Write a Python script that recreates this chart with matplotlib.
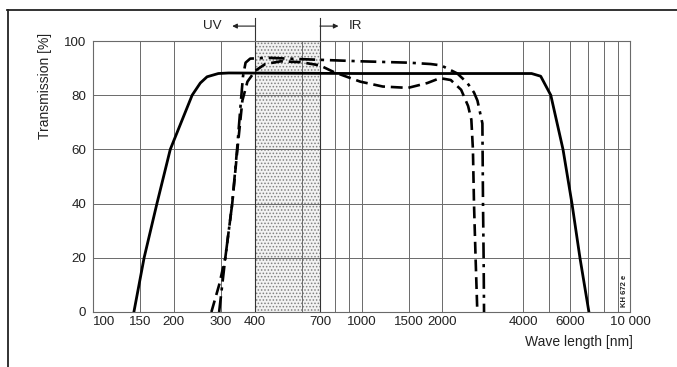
import matplotlib
matplotlib.use("Agg")
import matplotlib.pyplot as plt
from matplotlib.lines import Line2D

plt.rcParams['font.family'] = ['Liberation Sans', 'DejaVu Sans']
plt.rcParams['hatch.linewidth'] = 0.7

# ---- data (wavelength nm, transmission %) ----
solid_wl = [142, 155, 173, 194, 234, 251, 266, 293, 320, 1000, 4300, 4650, 5070, 5630, 6080, 6510, 7030]
solid_t = [0, 20, 40, 60, 80, 84.5, 86.8, 88, 88.2, 88, 88, 87, 80, 60, 40, 20, 0]

dash_wl = [276, 295, 311, 330, 345, 360, 376, 402, 438, 500, 593, 700, 790, 990, 1200, 1490, 1760, 1960,
           2150, 2350, 2495, 2565, 2600, 2624, 2660, 2700]
dash_t = [0, 10, 20, 40, 60, 78, 85, 89, 91.5, 92.5, 92.2, 91, 88.5, 85, 83.2, 82.7, 84.5, 86.3,
          85.6, 82, 76, 71, 60, 40, 20, 0]

dashdot_wl = [295, 311, 330, 344, 357, 362, 370, 385, 450, 600, 1000, 1500, 1810, 1980, 2276, 2479,
              2624, 2703, 2820, 2835, 2850, 2860]
dashdot_t = [0, 20, 40, 60, 80, 87, 92, 93.5, 93.8, 93.3, 92.5, 92, 91.5, 91, 88, 84.5,
             81, 78, 69.6, 40, 20, 0]

xtick_vals = [100, 150, 200, 300, 400, 700, 1000, 1500, 2000, 4000, 6000, 10000]
xtick_labels = ['100', '150', '200', '300', '400', '700', '1000', '1500', '2000', '4000', '6000', '10 000']
extra_grid = [600, 800, 900, 5000, 7000, 8000, 9000]
ytick_vals = [0, 20, 40, 60, 80, 100]
band = [400, 700]

fig = plt.figure(figsize=(6.77, 3.67), dpi=100)
ax = fig.add_axes([93 / 677, 1 - 312 / 367, (630 - 93) / 677, (312 - 41) / 367])
ax.set_xscale('log')
ax.set_xlim(100, 10000)
ax.set_ylim(0, 100)

gc = '#6a6a6a'
for v in xtick_vals[1:] + extra_grid:
    ax.axvline(v, color=gc, lw=0.7, zorder=1)
for v in ytick_vals[1:]:
    ax.axhline(v, color=gc, lw=0.7, zorder=1)

ax.axvspan(band[0], band[1], facecolor='#f2f2f2', edgecolor='#808080', hatch='.....', lw=0, zorder=0.5)
ax.axvline(band[0], color='#333333', lw=0.8, zorder=1.2)
ax.axvline(band[1], color='#333333', lw=0.8, zorder=1.2)

ax.plot(solid_wl, solid_t, color='black', lw=2.0, zorder=3, solid_joinstyle='round')
ax.plot(dash_wl, dash_t, color='black', lw=1.9, zorder=3, dashes=(4.5, 2.2))
ax.plot(dashdot_wl, dashdot_t, color='black', lw=1.9, zorder=3, dashes=(6, 2.2, 1.2, 2.2))

ax.set_xticks(xtick_vals)
ax.set_xticklabels(xtick_labels)
ax.minorticks_off()
ax.set_yticks(ytick_vals)
ax.set_yticklabels([str(v) for v in ytick_vals])
ax.tick_params(axis='both', length=0, labelsize=9.6, colors='#222222')
ax.tick_params(axis='x', pad=3)
ax.tick_params(axis='y', pad=5)
labs = ax.get_xticklabels()
labs[0].set_horizontalalignment('left')

for s in ax.spines.values():
    s.set_color(gc)
    s.set_linewidth(0.8)

ax.set_xlabel('Wave length [nm]', fontsize=10, color='#222222', labelpad=1)
ax.xaxis.set_label_coords(1.005, -0.085)
ax.xaxis.label.set_horizontalalignment('right')

# y label placed near the top, as in the reference
ax.text(-0.089, 1.03, 'Transmission [%]', transform=ax.transAxes, rotation=90,
        ha='center', va='top', fontsize=10, color='#222222')

# UV / IR markers above plot
tr = ax.get_xaxis_transform()
for v in band:
    ax.add_line(Line2D([v, v], [1.0, 1.085], transform=tr, color='#333333', lw=0.8, clip_on=False))
ax.annotate('', xy=(330, 1.055), xytext=(400, 1.055), xycoords=tr, textcoords=tr,
            arrowprops=dict(arrowstyle='-|>', color='#222222', lw=0.8, mutation_scale=7,
                            shrinkA=0, shrinkB=0))
ax.annotate('', xy=(821, 1.055), xytext=(700, 1.055), xycoords=tr, textcoords=tr,
            arrowprops=dict(arrowstyle='-|>', color='#222222', lw=0.8, mutation_scale=7,
                            shrinkA=0, shrinkB=0))
ax.text(302, 1.055, 'UV', transform=tr, ha='right', va='center', fontsize=9.6, color='#222222')
ax.text(900, 1.055, 'IR', transform=tr, ha='left', va='center', fontsize=9.6, color='#222222')

ax.text(9500, 2, 'KH 672 e', rotation=90, fontsize=5.5, fontweight='bold', ha='center', va='bottom',
        color='#222222')

# outer frame (top and left)
fig.add_artist(Line2D([7 / 677, 1.0], [1 - 9.5 / 367, 1 - 9.5 / 367], transform=fig.transFigure,
                      color='#222222', lw=1.3))
fig.add_artist(Line2D([7.5 / 677, 7.5 / 677], [0, 1 - 9.5 / 367], transform=fig.transFigure,
                      color='#222222', lw=1.3))

fig.savefig('out.png', dpi=100)
